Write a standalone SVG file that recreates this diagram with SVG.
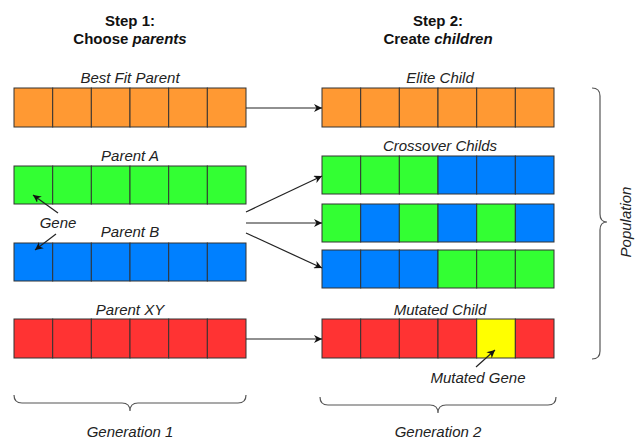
<svg xmlns="http://www.w3.org/2000/svg" width="638" height="441" viewBox="0 0 638 441">
<defs>
<style>
.t{font-family:"Liberation Sans",Arial,sans-serif;font-size:15px;font-style:italic;fill:#222;text-anchor:middle}
.h{font-family:"Liberation Sans",Arial,sans-serif;font-size:15px;font-weight:bold;fill:#111;text-anchor:middle}
.c{stroke:#333;stroke-width:1}
.o{fill:#FF9933}.g{fill:#33FF33}.b{fill:#0080FF}.r{fill:#FF3333}.y{fill:#FFFF00}
.ln{stroke:#222;stroke-width:1.2;fill:none}
.br{stroke:#555;stroke-width:1.2;fill:none}
</style>
<marker id="ah" viewBox="0 0 10 10" refX="10" refY="5" markerWidth="8" markerHeight="8" markerUnits="userSpaceOnUse" orient="auto">
<path d="M0,0 L10,5 L0,10 L3,5 Z" fill="#111"/>
</marker>
</defs>
<rect width="638" height="441" fill="#fff"/>

<text class="h" x="130" y="26">Step 1:</text>
<text class="h" x="130" y="44">Choose <tspan font-style="italic">parents</tspan></text>
<text class="h" x="438" y="26">Step 2:</text>
<text class="h" x="438" y="44">Create <tspan font-style="italic">children</tspan></text>

<g id="best-fit-parent">
<text class="t" x="130" y="83">Best Fit Parent</text>
<g class="c o">
<rect x="14" y="88" width="38.7" height="39"/><rect x="52.7" y="88" width="38.7" height="39"/><rect x="91.3" y="88" width="38.7" height="39"/><rect x="130" y="88" width="38.7" height="39"/><rect x="168.7" y="88" width="38.7" height="39"/><rect x="207.3" y="88" width="38.7" height="39"/>
</g>
</g>

<g id="parent-a">
<text class="t" x="130" y="161">Parent A</text>
<g class="c g">
<rect x="14" y="166" width="38.7" height="38"/><rect x="52.7" y="166" width="38.7" height="38"/><rect x="91.3" y="166" width="38.7" height="38"/><rect x="130" y="166" width="38.7" height="38"/><rect x="168.7" y="166" width="38.7" height="38"/><rect x="207.3" y="166" width="38.7" height="38"/>
</g>
</g>

<g id="parent-b">
<text class="t" x="130" y="237">Parent B</text>
<g class="c b">
<rect x="14" y="243" width="38.7" height="38"/><rect x="52.7" y="243" width="38.7" height="38"/><rect x="91.3" y="243" width="38.7" height="38"/><rect x="130" y="243" width="38.7" height="38"/><rect x="168.7" y="243" width="38.7" height="38"/><rect x="207.3" y="243" width="38.7" height="38"/>
</g>
</g>

<g id="gene-label">
<text class="t" x="58" y="228">Gene</text>
</g>

<g id="parent-xy">
<text class="t" x="130" y="315">Parent XY</text>
<g class="c r">
<rect x="14" y="319" width="38.7" height="39"/><rect x="52.7" y="319" width="38.7" height="39"/><rect x="91.3" y="319" width="38.7" height="39"/><rect x="130" y="319" width="38.7" height="39"/><rect x="168.7" y="319" width="38.7" height="39"/><rect x="207.3" y="319" width="38.7" height="39"/>
</g>
</g>

<g id="elite-child">
<text class="t" x="440" y="83">Elite Child</text>
<g class="c o">
<rect x="322" y="88" width="38.7" height="39"/><rect x="360.7" y="88" width="38.7" height="39"/><rect x="399.3" y="88" width="38.7" height="39"/><rect x="438" y="88" width="38.7" height="39"/><rect x="476.7" y="88" width="38.7" height="39"/><rect x="515.3" y="88" width="38.7" height="39"/>
</g>
</g>

<g id="crossover-child-1">
<text class="t" x="440" y="151">Crossover Childs</text>
<g class="c">
<rect class="g" x="322" y="156" width="38.7" height="38"/><rect class="g" x="360.7" y="156" width="38.7" height="38"/><rect class="g" x="399.3" y="156" width="38.7" height="38"/><rect class="b" x="438" y="156" width="38.7" height="38"/><rect class="b" x="476.7" y="156" width="38.7" height="38"/><rect class="b" x="515.3" y="156" width="38.7" height="38"/>
</g>
</g>

<g id="crossover-child-2">
<g class="c">
<rect class="g" x="322" y="204" width="38.7" height="38"/><rect class="b" x="360.7" y="204" width="38.7" height="38"/><rect class="g" x="399.3" y="204" width="38.7" height="38"/><rect class="b" x="438" y="204" width="38.7" height="38"/><rect class="g" x="476.7" y="204" width="38.7" height="38"/><rect class="b" x="515.3" y="204" width="38.7" height="38"/>
</g>
</g>

<g id="crossover-child-3">
<g class="c">
<rect class="b" x="322" y="250" width="38.7" height="38"/><rect class="b" x="360.7" y="250" width="38.7" height="38"/><rect class="b" x="399.3" y="250" width="38.7" height="38"/><rect class="g" x="438" y="250" width="38.7" height="38"/><rect class="g" x="476.7" y="250" width="38.7" height="38"/><rect class="g" x="515.3" y="250" width="38.7" height="38"/>
</g>
</g>

<g id="mutated-child">
<text class="t" x="440" y="315">Mutated Child</text>
<g class="c">
<rect class="r" x="322" y="319" width="38.7" height="39"/><rect class="r" x="360.7" y="319" width="38.7" height="39"/><rect class="r" x="399.3" y="319" width="38.7" height="39"/><rect class="r" x="438" y="319" width="38.7" height="39"/><rect class="y" x="476.7" y="319" width="38.7" height="39"/><rect class="r" x="515.3" y="319" width="38.7" height="39"/>
</g>
</g>

<g id="mutated-gene-label">
<text class="t" x="478" y="383">Mutated Gene</text>
</g>

<g id="connectors">
<line class="ln" x1="246" y1="108" x2="322" y2="108" marker-end="url(#ah)"/>
<line class="ln" x1="246" y1="212" x2="322" y2="176" marker-end="url(#ah)"/>
<line class="ln" x1="246" y1="223" x2="322" y2="223" marker-end="url(#ah)"/>
<line class="ln" x1="246" y1="233" x2="322" y2="268" marker-end="url(#ah)"/>
<line class="ln" x1="246" y1="339" x2="322" y2="339" marker-end="url(#ah)"/>
<line class="ln" x1="58" y1="213" x2="33" y2="195" marker-end="url(#ah)"/>
<line class="ln" x1="56" y1="234" x2="35" y2="250" marker-end="url(#ah)"/>
<line class="ln" x1="476" y1="367" x2="495" y2="350" marker-end="url(#ah)"/>
</g>

<g id="braces">
<path class="br" d="M14,395 q0,8 8,8 H122 q8,0 8,8 q0,-8 8,-8 H238 q8,0 8,-8"/>
<path class="br" d="M320,397 q0,8 8,8 H430 q8,0 8,8 q0,-8 8,-8 H548 q8,0 8,-8"/>
<path class="br" d="M592,88 q8,0 8,8 V214 q0,8 7,8 q-7,0 -7,8 V351 q0,8 -8,8"/>
</g>

<text class="t" x="130" y="437">Generation 1</text>
<text class="t" x="438" y="437">Generation 2</text>
<text class="t" transform="translate(631,222) rotate(-90)" x="0" y="0">Population</text>
</svg>
